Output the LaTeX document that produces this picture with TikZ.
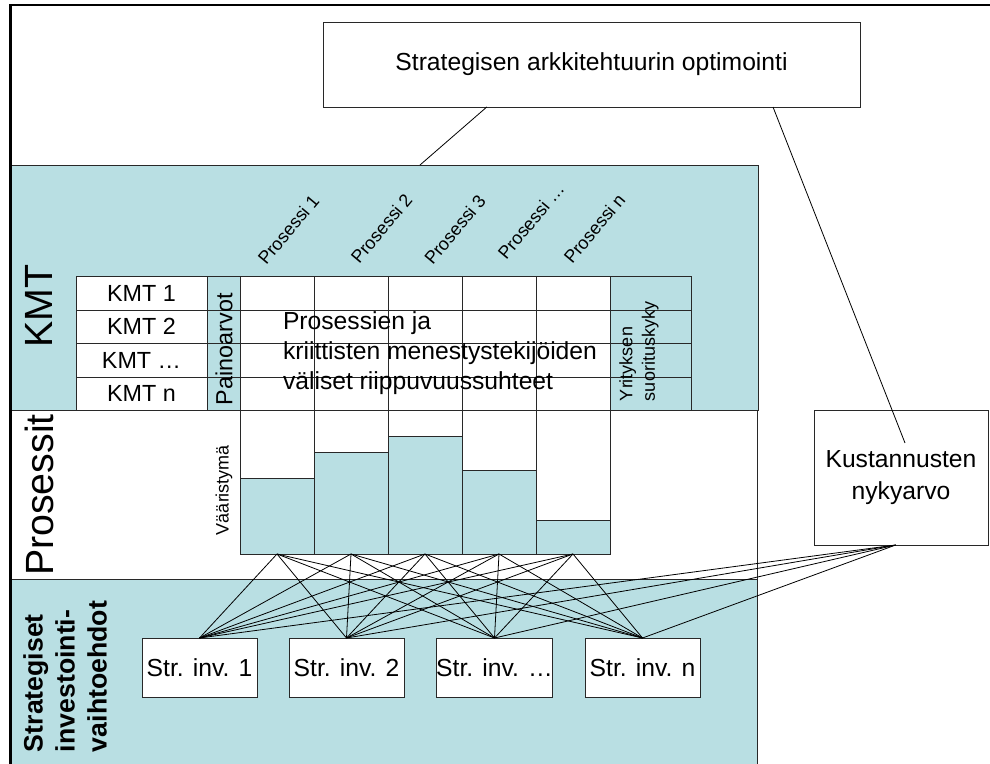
\documentclass[tikz,border=0pt]{standalone}
\usepackage{fontspec}
\setmainfont{Liberation Sans}
\usetikzlibrary{calc}
\definecolor{panelblue}{RGB}{185,223,227}
\definecolor{gridline}{RGB}{40,40,40}
\begin{document}
\begin{tikzpicture}[x=0.75pt,y=-0.75pt,
  every node/.style={inner sep=0pt, outer sep=0pt},
  grid/.style={draw=gridline, line width=0.7pt},
  link/.style={draw=black, line width=0.6pt},
  whitebox/.style={draw=gridline, line width=0.7pt, fill=white, align=center,
    font=\fontsize{18.5}{24}\selectfont},
  bar/.style={draw=gridline, line width=0.7pt, fill=panelblue, minimum width=55.5pt, anchor=south},
  celltext/.style={font=\fontsize{17.5}{20}\selectfont},
  bigtag/.style={rotate=90, font=\fontsize{29.5}{32}\selectfont},
  proclabel/.style={rotate=50, font=\fontsize{13.5}{15}\selectfont},
  smalltag/.style={rotate=90, font=\fontsize{13.5}{17}\selectfont},
]
\useasboundingbox (0,0) rectangle (990,764);
\fill[white] (0,0) rectangle (990,764);

% three horizontal panels
\filldraw[fill=panelblue, grid] (10,165) rectangle (758,410);
\draw[grid] (10,410) rectangle (757,579);
\filldraw[fill=panelblue, grid] (10,579) rectangle (757,768);

% KMT table with weights, process columns and performance column
\fill[white] (76,276) rectangle (207,410);
\fill[panelblue] (207,276) rectangle (240,410);
\fill[white] (240,276) rectangle (610,554);
\fill[panelblue] (610,276) rectangle (691,410);
\draw[grid] (76,276) rectangle (691,410);
\foreach \y in {310,343,377} \draw[grid] (76,\y) -- (691,\y);
\foreach \x in {207,691} \draw[grid] (\x,276) -- (\x,410);
\foreach \x in {240,314,388,462,536,610} \draw[grid] (\x,276) -- (\x,554);
\draw[grid] (240,554) -- (610,554);

% variance bars
\node[bar, minimum height=57pt]   (bar1) at (277,554) {};
\node[bar, minimum height=76.5pt] (bar2) at (351,554) {};
\node[bar, minimum height=88.5pt] (bar3) at (425,554) {};
\node[bar, minimum height=63pt]   (bar4) at (499,554) {};
\node[bar, minimum height=25.5pt] (bar5) at (573,554) {};

% boxes
\node[whitebox, minimum width=402.75pt, minimum height=63.75pt] (opt) at (591.5,64.5)
  {Strategisen arkkitehtuurin optimointi};
\node[whitebox, minimum width=130.5pt, minimum height=101.25pt] (kust) at (901,477.5)
  {Kustannusten\\nykyarvo};
\node[whitebox, minimum width=86.25pt, minimum height=44.25pt] (inv1) at (199.5,667.5) {Str. inv. 1};
\node[whitebox, minimum width=86.25pt, minimum height=44.25pt] (inv2) at (346.5,667.5) {Str. inv. 2};
\node[whitebox, minimum width=86.25pt, minimum height=44.25pt] (inv3) at (494.5,667.5) {Str. inv. …};
\node[whitebox, minimum width=86.25pt, minimum height=44.25pt] (inv4) at (642.5,667.5) {Str. inv. n};

% connectors
\foreach \b in {1,...,5}
  \foreach \i in {1,...,4}
    \draw[link] (bar\b.south) -- (inv\i.north);
\foreach \i in {1,...,4}
  \draw[link] ([xshift=-4pt]kust.south) -- (inv\i.north);
\coordinate (kmttop) at (420,165);
\draw[link] ($(opt.south west)!0.305!(opt.south east)$) -- (kmttop);
\draw[link] ($(opt.south west)!0.838!(opt.south east)$) -- ([xshift=3pt,yshift=25.9pt]kust.center);

% panel titles
\node[bigtag] (kmtlabel) at (39,306) {KMT};
\node[bigtag] (proclabel) at (39,495) {Prosessit};
\node[rotate=90, anchor=west, align=left, font=\bfseries\fontsize{20}{24}\selectfont]
  (invlabel) at (65,752) {Strategiset\\investointi-\\vaihtoehdot};

% table texts
\node[celltext] (k1) at (141.5,293) {KMT 1};
\node[celltext] (k2) at (141.5,326.5) {KMT 2};
\node[celltext] (k3) at (141.5,360) {KMT …};
\node[celltext] (k4) at (141.5,393.5) {KMT n};
\node[celltext, rotate=90, anchor=west] (weights) at (224,405) {Painoarvot};
\node[smalltag, anchor=west, align=left] (perf) at (639,401) {Yrityksen\\suorituskyky};
\node[smalltag] (variance) at (224,490) {Vääristymä};
\node[anchor=west, align=left, font=\fontsize{18.5}{22.5}\selectfont] (deps) at (283,353)
  {Prosessien ja\\kriittisten menestystekijöiden\\väliset riippuvuussuhteet};

% process column headers
\node[proclabel] (p1) at (288.5,229.5) {Prosessi 1};
\node[proclabel] (p2) at (381.5,228.5) {Prosessi 2};
\node[proclabel] (p3) at (455,229.5) {Prosessi 3};
\node[proclabel] (p4) at (531,221) {Prosessi …};
\node[proclabel] (p5) at (594.5,228.5) {Prosessi n};

% outer frame
\draw[line width=2.25pt] (10.5,764) -- (10.5,4);
\draw[line width=1.6pt] (9.5,5) -- (990,5);
\end{tikzpicture}
\end{document}
